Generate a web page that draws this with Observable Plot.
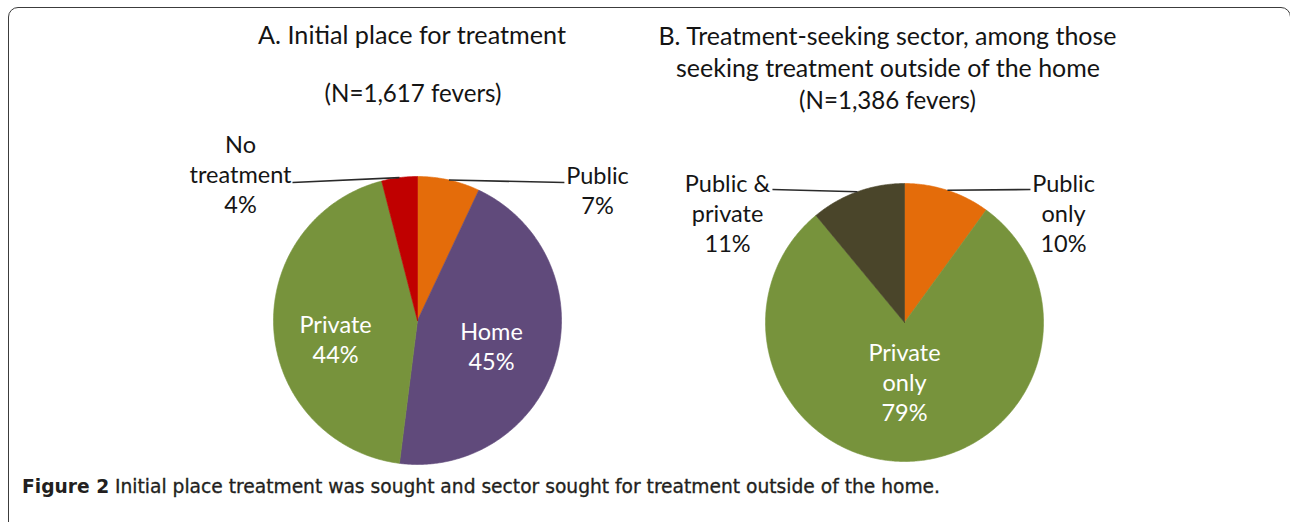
<!DOCTYPE html>
<html>
<head>
<meta charset="utf-8">
<script src="https://cdn.jsdelivr.net/npm/d3@7"></script>
<script src="https://cdn.jsdelivr.net/npm/@observablehq/plot@0.6"></script>
<style>
  body { margin: 0; background: #fff; }
  #root { position: relative; width: 1290px; height: 522px; overflow: hidden; font-family: Lato, "Open Sans", sans-serif; }
  .frame { position: absolute; left: 8px; top: 7px; width: 1283px; height: 560px; border: 1.5px solid #3c3c3c; border-radius: 10px; box-sizing: border-box; }
  .tline { position: absolute; white-space: nowrap; transform: translate(-50%, -50%); color: #141414; font-size: 26px; line-height: 1; }
  .caption { position: absolute; left: 22px; white-space: nowrap; transform-origin: 0 50%; font-family: "DejaVu Sans Condensed", "DejaVu Sans", sans-serif; font-stretch: condensed; font-size: 19px; color: #231f20; line-height: 1; -webkit-text-stroke: 0.3px #231f20; }
  .caption b { font-weight: bold; -webkit-text-stroke: 0; }
  .plot { position: absolute; top: 0; }
</style>
</head>
<body>
<div id="root">
  <div class="frame"></div>
</div>
<script>
// ---------- data ----------
const catsA = ["Public", "Home", "Private", "No treatment"];
const valsA = [7, 45, 44, 4];
const namesA = ["Public", "Home", "Private", "No\ntreatment"];
const colorsA = ["#E46C0A", "#604A7B", "#77933C", "#C00000"];

const catsB = ["Public only", "Private only", "Public & private"];
const valsB = [10, 79, 11];
const namesB = ["Public\nonly", "Private\nonly", "Public &\nprivate"];
const colorsB = ["#E46C0A", "#77933C", "#4A452A"];

const titleA = ["A. Initial place for treatment", "(N=1,617 fevers)"];
const titleB = ["B. Treatment-seeking sector, among those", "seeking treatment outside of the home", "(N=1,386 fevers)"];
const captionBold = "Figure 2";
const captionText = " Initial place treatment was sought and sector sought for treatment outside of the home.";

// ---------- layout (unit-circle coordinates relative to each pie) ----------
const layoutA = {
  cx: 417, cy: 320, r: 144, left: 0, width: 645,
  labels: {
    "Public":       { pos: [1.25, 0.91],   outside: true, end: [1.02, 0.958] },
    "Home":         { pos: [0.514, -0.174] },
    "Private":      { pos: [-0.569, -0.122] },
    "No treatment": { pos: [-1.229, 1.021], outside: true, end: [-0.868, 0.958] }
  }
};
const layoutB = {
  cx: 904, cy: 322, r: 139, left: 645, width: 645,
  labels: {
    "Public only":      { pos: [1.144, 0.791], outside: true, end: [0.906, 0.957] },
    "Private only":     { pos: [0, -0.424] },
    "Public & private": { pos: [-1.273, 0.791], outside: true, end: [-0.95, 0.957] }
  }
};

const root = document.getElementById("root");

function pieChart(cats, vals, names, colors, L) {
  const arcs = d3.pie().sort(null).value(d => d.v)(cats.map((c, i) => ({ c, v: vals[i], name: names[i] })));
  const pts = [];
  arcs.forEach(a => {
    const n = Math.max(2, Math.ceil((a.endAngle - a.startAngle) / (Math.PI / 360)));
    pts.push({ c: a.data.c, x: 0, y: 0 });
    for (let k = 0; k <= n; k++) {
      const t = a.startAngle + (a.endAngle - a.startAngle) * k / n;
      pts.push({ c: a.data.c, x: Math.sin(t), y: Math.cos(t) });
    }
    pts.push({ c: a.data.c, x: 0, y: 0 });
  });
  const labels = arcs.map(a => {
    const lay = L.labels[a.data.c];
    const mid = (a.startAngle + a.endAngle) / 2;
    return {
      c: a.data.c,
      text: a.data.name + "\n" + a.data.v + "%",
      x: lay.pos[0], y: lay.pos[1],
      outside: !!lay.outside,
      x1: Math.sin(mid), y1: Math.cos(mid),
      x2: lay.end ? lay.end[0] : 0, y2: lay.end ? lay.end[1] : 0
    };
  });
  const H = 522;
  const cx = L.cx - L.left;
  const plot = Plot.plot({
    width: L.width, height: H, margin: 0,
    x: { domain: [-1, 1], range: [cx - L.r, cx + L.r], axis: null },
    y: { domain: [-1, 1], range: [L.cy + L.r, L.cy - L.r], axis: null },
    color: { domain: cats, range: colors },
    style: { background: "transparent", overflow: "visible" },
    marks: [
      Plot.line(pts, { x: "x", y: "y", z: "c", fill: "c", stroke: "c", strokeWidth: 0.6, curve: "linear" }),
      Plot.link(labels.filter(d => d.outside), { x1: "x1", y1: "y1", x2: "x2", y2: "y2", stroke: "#2a2a2a", strokeWidth: 1.6 }),
      Plot.text(labels.filter(d => d.outside), { x: "x", y: "y", text: "text", fill: "#151515", fontSize: 23.5, lineHeight: 1.277, fontFamily: "Lato", textAnchor: "middle", lineAnchor: "middle" }),
      Plot.text(labels.filter(d => !d.outside), { x: "x", y: "y", text: "text", fill: "#ffffff", fontSize: 23.5, lineHeight: 1.277, fontFamily: "Lato", textAnchor: "middle", lineAnchor: "middle" })
    ]
  });
  plot.classList.add("plot");
  plot.style.left = L.left + "px";
  root.appendChild(plot);
}

pieChart(catsA, valsA, namesA, colorsA, layoutA);
pieChart(catsB, valsB, namesB, colorsB, layoutB);

// ---------- titles ----------
function fitLine(text, cx, cy, target) {
  const el = document.createElement("div");
  el.className = "tline";
  el.textContent = text;
  el.style.left = cx + "px";
  el.style.top = cy + "px";
  root.appendChild(el);
  const w = el.getBoundingClientRect().width;
  const fs = parseFloat(getComputedStyle(el).fontSize);
  el.style.fontSize = (fs * target / w).toFixed(2) + "px";
}
const titlePosA = [[412, 35, 308], [413, 93, 177]];
const titlePosB = [[887.5, 35, 458], [888, 67, 424], [887.5, 100, 177]];
titleA.forEach((t, i) => fitLine(t, ...titlePosA[i]));
titleB.forEach((t, i) => fitLine(t, ...titlePosB[i]));

// ---------- caption ----------
const cap = document.createElement("div");
cap.className = "caption";
const bEl = document.createElement("b");
bEl.textContent = captionBold;
cap.appendChild(bEl);
cap.appendChild(document.createTextNode(captionText));
root.appendChild(cap);
{
  const r = cap.getBoundingClientRect();
  cap.style.top = (486 - r.height / 2) + "px";
  cap.style.transform = "scaleX(" + (918 / r.width).toFixed(4) + ")";
}
</script>
</body>
</html>
